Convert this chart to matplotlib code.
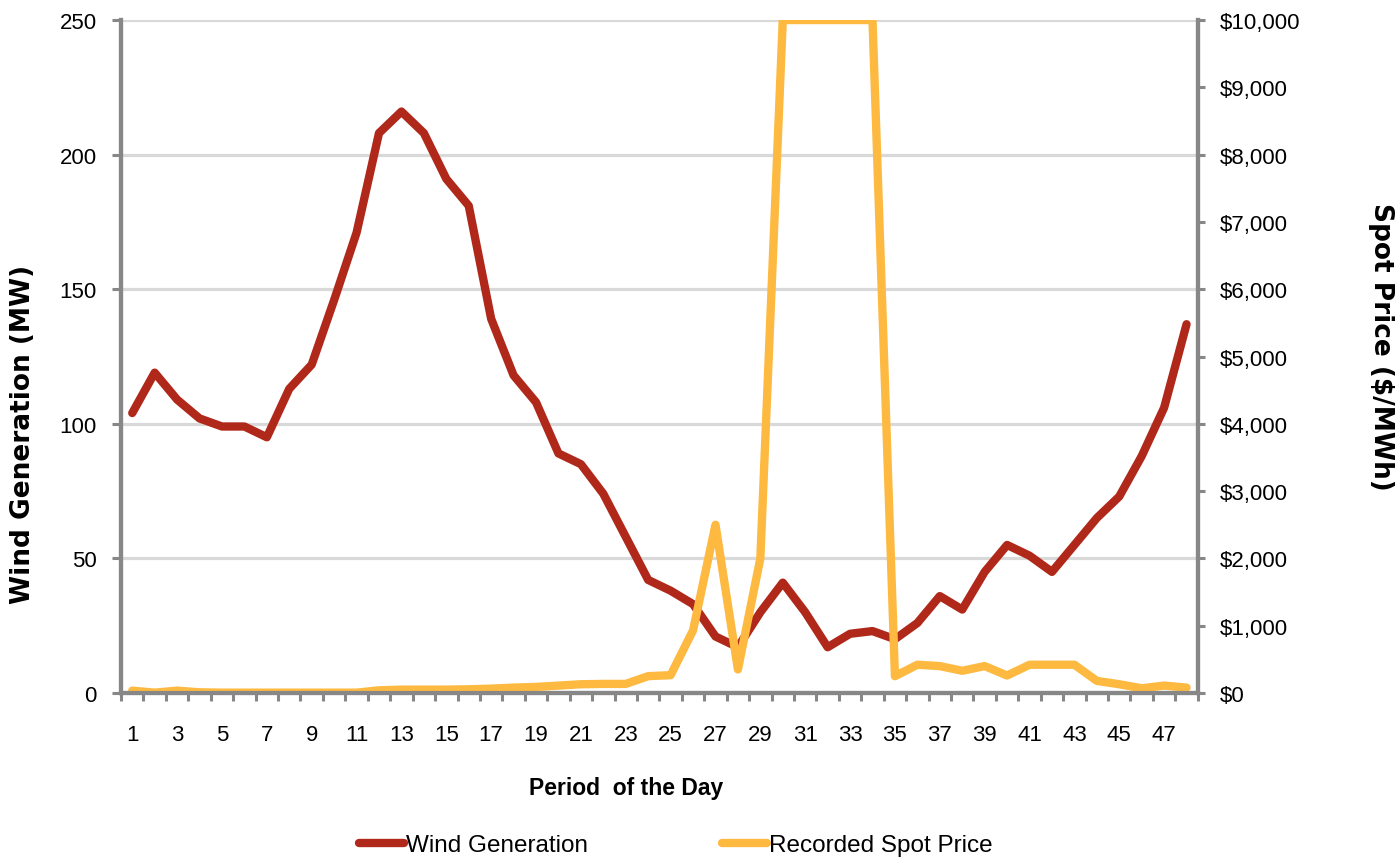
import matplotlib
matplotlib.use("Agg")
import matplotlib.pyplot as plt
from matplotlib.ticker import FuncFormatter, MultipleLocator
import numpy as np

periods = list(range(1, 49))
wind_mw = [104, 119, 109, 102, 99, 99, 95, 113, 122, 146, 171, 208,
           216, 208, 191, 181, 139, 118, 108, 89, 85, 74, 58, 42,
           38, 33, 21, 17, 30, 41, 30, 17, 22, 23, 20, 26,
           36, 31, 45, 55, 51, 45, 55, 65, 73, 88, 106, 137]
spot_price = [35, 5, 35, 10, 5, 5, 5, 5, 5, 5, 5, 40,
              50, 50, 50, 55, 65, 80, 90, 110, 130, 135, 135, 250,
              265, 930, 2500, 350, 2000, 10000, 10000, 10000, 10000, 10000, 250, 420,
              400, 330, 400, 260, 420, 420, 420, 180, 130, 70, 110, 80]

RED = '#B0281A'
ORANGE = '#FDB940'
AXIS = '#878787'
GRID = '#D9D9D9'

plt.rcParams['font.family'] = 'Liberation Sans'
fig = plt.figure(figsize=(13.96, 8.62), dpi=100)
ax = fig.add_axes([0.0867, 0.1949, 0.7713, 0.7807])
ax2 = ax.twinx()

x = np.arange(len(periods))
ax.set_xlim(-0.5, len(periods) - 0.5)
ax.set_ylim(0, 250)
ax2.set_ylim(0, 10000)

ax.yaxis.set_major_locator(MultipleLocator(50))
ax.grid(axis='y', color=GRID, linewidth=2.3)
ax.set_axisbelow(True)

line_kw = dict(linewidth=6, solid_joinstyle='round', solid_capstyle='round')
l1, = ax.plot(x, wind_mw, color=RED, **line_kw)
l2, = ax2.plot(x, spot_price, color=ORANGE, **line_kw)

# category labels at every other period, tick marks between categories
ax.set_xticks(x[::2])
ax.set_xticklabels([str(p) for p in periods[::2]])
ax.set_xticks(np.arange(-0.5, len(periods), 1), minor=True)
ax.tick_params(axis='x', which='major', length=0, pad=22, labelsize=16)
ax.tick_params(axis='x', which='minor', length=5.5, width=2.2, color=AXIS)
ax.tick_params(axis='y', length=6.5, width=2.2, color=AXIS, labelsize=16, pad=11)

ax2.yaxis.set_major_locator(MultipleLocator(1000))
ax2.yaxis.set_major_formatter(FuncFormatter(lambda v, p: '${:,.0f}'.format(v)))
ax2.tick_params(axis='y', length=5, width=2.2, color=AXIS, labelsize=16, pad=11)

for a in (ax, ax2):
    a.spines['top'].set_visible(False)
    for s in ('left', 'right', 'bottom'):
        a.spines[s].set_color(AXIS)
        a.spines[s].set_linewidth(3)

ax.set_xlabel('Period  of the Day', fontsize=16.5, fontweight='bold', va='center')
ax.xaxis.set_label_coords(0.469, -0.14)
ax.set_ylabel('Wind Generation (MW)', family='DejaVu Sans', fontsize=19,
              fontweight='bold', va='center')
ax.yaxis.set_label_coords(-0.091, 0.385)
ax2.set_ylabel('Spot Price ($/MWh)', family='DejaVu Sans', fontsize=19,
               fontweight='bold', rotation=-90, va='center')
ax2.yaxis.set_label_coords(1.170, 0.516)

fig.legend([l1, l2], ['Wind Generation', 'Recorded Spot Price'],
           loc='center', bbox_to_anchor=(0.484, 0.018), ncol=2, frameon=False,
           fontsize=17.5, handlelength=1.85, handletextpad=0.1, columnspacing=5.5)

fig.savefig('out.png', dpi=100)
